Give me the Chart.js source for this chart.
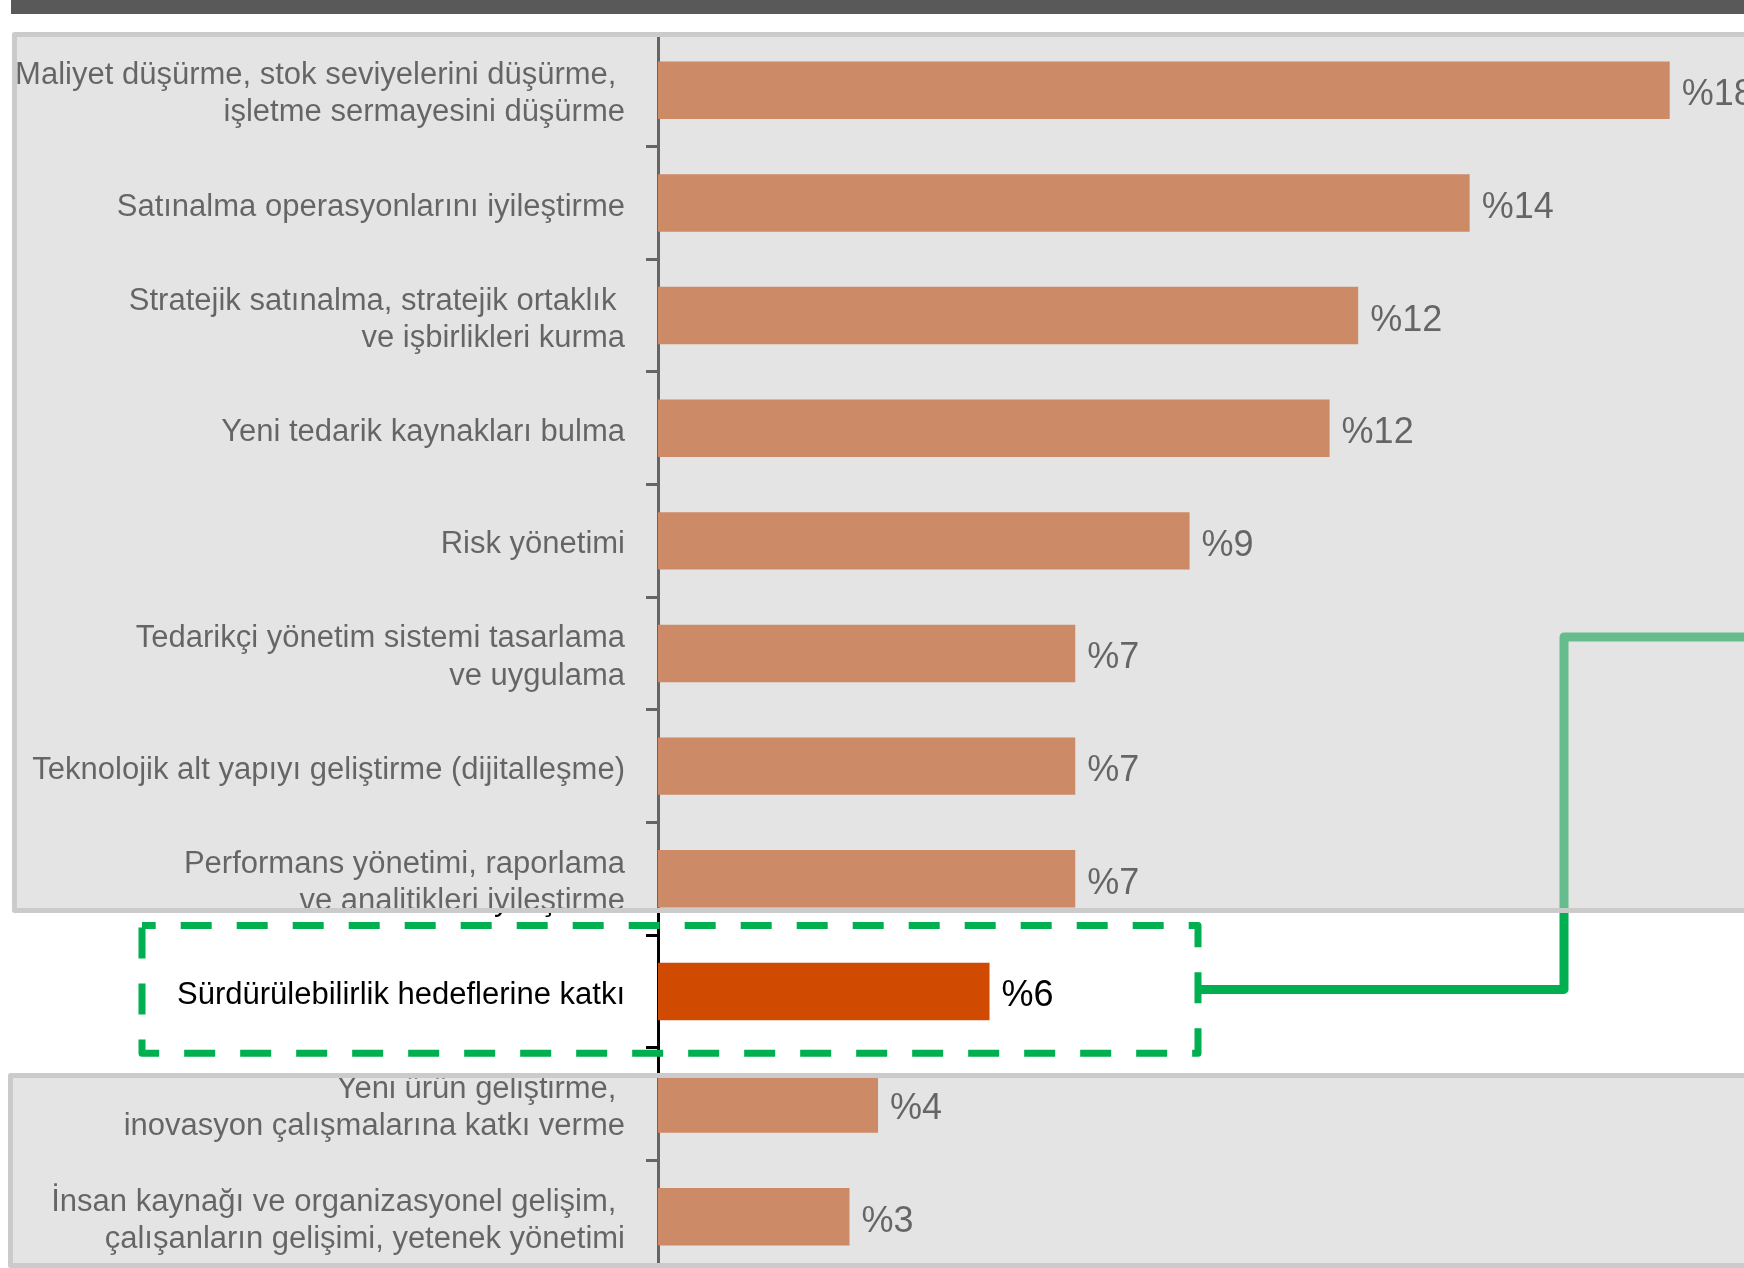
<!DOCTYPE html>
<html>
<head>
<meta charset="utf-8">
<script src="https://cdn.jsdelivr.net/npm/chart.js@4.4.1/dist/chart.umd.min.js"></script>
<style>
  html, body { margin: 0; padding: 0; background: #fff; overflow: hidden; }
  canvas { display: block; }
</style>
</head>
<body>
<canvas id="chart" width="1744" height="1290"></canvas>
<script>
// categories, top to bottom (trailing spaces keep the PowerPoint line alignment)
const categories = [
  ['Maliyet düşürme, stok seviyelerini düşürme, ', 'işletme sermayesini düşürme'],
  'Satınalma operasyonlarını iyileştirme',
  ['Stratejik satınalma, stratejik ortaklık ', 've işbirlikleri kurma'],
  'Yeni tedarik kaynakları bulma',
  'Risk yönetimi',
  ['Tedarikçi yönetim sistemi tasarlama', 've uygulama'],
  'Teknolojik alt yapıyı geliştirme (dijitalleşme)',
  ['Performans yönetimi, raporlama', 've analitikleri iyileştirme'],
  'Sürdürülebilirlik hedeflerine katkı',
  ['Yeni ürün geliştirme, ', 'inovasyon çalışmalarına katkı verme'],
  ['İnsan kaynağı ve organizasyonel gelişim, ', 'çalışanların gelişimi, yetenek yönetimi']
];

// share in percent
const shares = [17.7, 14.2, 12.25, 11.75, 9.3, 7.3, 7.3, 7.3, 5.8, 3.85, 3.35];

// the highlighted row (Sürdürülebilirlik)
const highlightIndex = 8;

const FONT = '"Liberation Sans", Arial, sans-serif';

// value labels, dashed box, connector, grey panels
const slideDecor = {
  id: 'slideDecor',
  afterDatasetsDraw(chart) {
    const ctx = chart.ctx;
    const meta = chart.getDatasetMeta(0);
    ctx.save();
    ctx.font = '36px ' + FONT;
    ctx.fillStyle = '#000';
    ctx.textAlign = 'left';
    ctx.textBaseline = 'middle';
    meta.data.forEach((bar, i) => {
      ctx.fillText('%' + Math.round(shares[i]), bar.x + 12, bar.y + 5);
    });
    ctx.restore();
  },
  afterDraw(chart) {
    const ctx = chart.ctx;
    const ys = chart.scales.y;
    const step = ys.getPixelForValue(1) - ys.getPixelForValue(0);
    const cy = ys.getPixelForValue(highlightIndex);
    const top = cy - step * 0.585;
    const bottom = cy + step * 0.55;
    const left = 142, right = 1198;

    ctx.save();
    // dashed frame around the highlighted row
    ctx.strokeStyle = '#00B050';
    ctx.lineWidth = 7;
    ctx.lineJoin = 'round';
    ctx.setLineDash([31, 25]);
    ctx.lineDashOffset = -2;
    ctx.beginPath();
    ctx.moveTo(left, top);
    ctx.lineTo(left, bottom);
    ctx.lineTo(right, bottom);
    ctx.lineTo(right, top);
    ctx.closePath();
    ctx.stroke();

    // connector to the right
    ctx.setLineDash([]);
    ctx.lineWidth = 9;
    ctx.beginPath();
    ctx.moveTo(right, cy - 2);
    ctx.lineTo(1564, cy - 2);
    ctx.lineTo(1564, 637);
    ctx.lineTo(1780, 637);
    ctx.stroke();

    // translucent grey panels over the other rows
    ctx.fillStyle = 'rgba(201,201,201,0.5)';
    ctx.strokeStyle = '#cbcbcb';
    ctx.lineWidth = 5;
    ctx.fillRect(14.5, 34.5, 1800, 876);
    ctx.strokeRect(14.5, 34.5, 1800, 876);
    ctx.fillRect(10.5, 1075.5, 1800, 190);
    ctx.strokeRect(10.5, 1075.5, 1800, 190);

    // dark header strip
    ctx.fillStyle = '#595959';
    ctx.fillRect(11, 0, 1800, 14);
    ctx.restore();
  }
};

new Chart(document.getElementById('chart').getContext('2d'), {
  type: 'bar',
  data: {
    labels: categories,
    datasets: [{
      data: shares,
      backgroundColor: '#D04A02',
      borderWidth: 0,
      barPercentage: 0.51,
      categoryPercentage: 1.0
    }]
  },
  options: {
    indexAxis: 'y',
    responsive: false,
    animation: false,
    devicePixelRatio: 1,
    layout: { padding: { top: 34, bottom: 17, left: 0, right: 0 } },
    plugins: {
      legend: { display: false },
      tooltip: { enabled: false }
    },
    scales: {
      x: {
        display: false,
        min: 0,
        max: 19
      },
      y: {
        grid: {
          offset: true,
          drawOnChartArea: false,
          drawTicks: true,
          tickLength: 12,
          tickWidth: 3,
          tickColor: '#000'
        },
        border: { display: true, color: '#000', width: 3 },
        ticks: {
          autoSkip: false,
          padding: 21,
          labelOffset: 4,
          color: '#000',
          font: { family: FONT, size: 31, lineHeight: 1.2 }
        },
        afterFit(scale) {
          scale.width = 658;
          scale.paddingTop = 0;
          scale.paddingBottom = 0;
        }
      }
    }
  },
  plugins: [slideDecor]
});
</script>
</body>
</html>
